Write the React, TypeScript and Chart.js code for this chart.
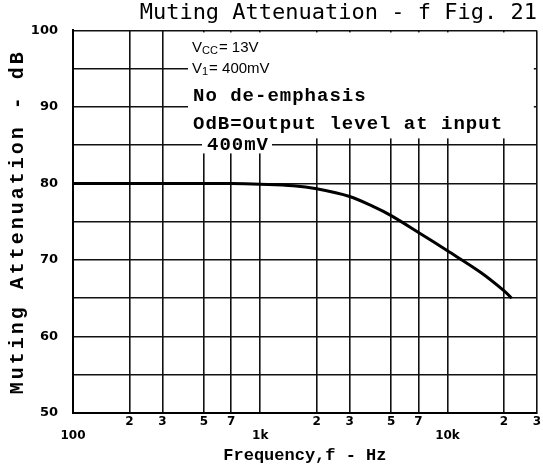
import React, { useEffect, useRef } from 'react';
import { Chart, registerables } from 'chart.js';

Chart.register(...registerables);

// ---- data ----
const frequencies = [100, 200, 300, 500, 700, 1000, 1500, 2000, 3000, 4000, 5000, 7000, 10000, 15000, 20000, 22000];
const attenuation = [80, 80, 80, 80, 80, 79.9, 79.7, 79.3, 78.3, 77.0, 75.8, 73.6, 71.2, 68.4, 66.0, 65.0];
const xTickValues = [100, 200, 300, 500, 700, 1000, 2000, 3000, 5000, 7000, 10000, 20000, 30000];
const xTickLabels = ['100', '2', '3', '5', '7', '1k', '2', '3', '5', '7', '10k', '2', '3'];
const xMajorLabels = ['100', '1k', '10k'];
const yLabelStep = 10;
const titleText = 'Muting Attenuation - f Fig. 21';
const xTitle = 'Frequency,f - Hz';
const yTitle = 'Muting Attenuation - dB';
const noteLines = ['No de-emphasis', 'OdB=Output level at input', '400mV'];

const monoBold = '"Liberation Mono", "DejaVu Sans Mono", monospace';

const notesPlugin = {
  id: 'notes',
  beforeDraw(chart: any) {
    const ys: any = chart.scales.y;
    if (ys && !ys.__patched) {
      const orig = ys.drawTitle.bind(ys);
      ys.drawTitle = () => {
        chart.ctx.save();
        (chart.ctx as any).letterSpacing = '3px';
        orig();
        chart.ctx.restore();
      };
      ys.__patched = true;
    }
  },
  afterDatasetsDraw(chart: any) {
    const { ctx, chartArea: a } = chart;
    ctx.save();
    // blank panel behind the condition notes (grid hidden there)
    ctx.fillStyle = '#fff';
    ctx.fillRect(a.left + 115, a.top + 2, a.right - a.left - 118, 106);

    ctx.fillStyle = '#000';
    ctx.textBaseline = 'middle';
    ctx.textAlign = 'left';

    const drawSub = (x: number, y: number, main: string, sub: string, rest: string) => {
      ctx.font = '15px "Liberation Sans", sans-serif';
      ctx.fillText(main, x, y);
      let cx = x + ctx.measureText(main).width;
      ctx.font = '11px "Liberation Sans", sans-serif';
      ctx.fillText(sub, cx, y + 4);
      cx += ctx.measureText(sub).width;
      ctx.font = '15px "Liberation Sans", sans-serif';
      ctx.fillText(rest, cx + 1, y);
    };
    drawSub(a.left + 119, a.top + 17, 'V', 'CC', '= 13V');
    drawSub(a.left + 119, a.top + 38, 'V', '1', '= 400mV');

    ctx.font = 'bold 19px ' + monoBold;
    (ctx as any).letterSpacing = '1px';
    const pos = [
      [a.left + 120, a.top + 66],
      [a.left + 120, a.top + 94],
      [a.left + 134, a.top + 115],
    ];
    noteLines.forEach((t, i) => {
      const [x, y] = pos[i];
      if (i === 2) {
        const w = ctx.measureText(t).width;
        ctx.fillStyle = '#fff';
        ctx.fillRect(x - 5, y - 8, w + 8, 16);
        ctx.fillStyle = '#000';
      }
      ctx.fillText(t, x, y);
    });
    ctx.restore();
  },
};

export default function App() {
  const ref = useRef<HTMLCanvasElement | null>(null);

  useEffect(() => {
    if (!ref.current) return;
    const chart = new Chart(ref.current, {
      type: 'line',
      data: {
        datasets: [
          {
            data: frequencies.map((f, i) => ({ x: f, y: attenuation[i] })),
            borderColor: '#000',
            borderWidth: 3,
            pointRadius: 0,
            tension: 0.35,
            fill: false,
          },
        ],
      },
      options: {
        responsive: false,
        animation: false,
        devicePixelRatio: 1,
        layout: { padding: { top: 0, right: 6, left: 0, bottom: 0 } },
        plugins: {
          legend: { display: false },
          tooltip: { enabled: false },
          title: {
            display: true,
            text: titleText,
            align: 'end',
            color: '#000',
            font: { family: '"DejaVu Sans Mono", monospace', size: 22, weight: 'normal', lineHeight: 1.2 },
            padding: { top: 0, bottom: 4 },
          },
        },
        scales: {
          x: {
            type: 'logarithmic',
            min: 100,
            max: 30000,
            afterBuildTicks: (s: any) => {
              s.ticks = xTickValues.map((v) => ({ value: v }));
            },
            afterFit: (s: any) => {
              s.height = 59;
            },
            ticks: {
              autoSkip: false,
              maxRotation: 0,
              minRotation: 0,
              padding: 2,
              color: '#000',
              font: { family: '"DejaVu Sans", sans-serif', size: 12, weight: 'bold', lineHeight: 1.15 },
              callback: (_v: any, i: number) => {
                const l = xTickLabels[i];
                return xMajorLabels.includes(l) ? ['', l] : l;
              },
            },
            grid: { color: '#111', lineWidth: 1.6, drawTicks: false },
            border: { color: '#000', width: 2 },
            title: {
              display: true,
              text: xTitle,
              color: '#000',
              font: { family: monoBold, size: 17, weight: 'bold', lineHeight: 1.2 },
              padding: { top: 2, bottom: 6 },
            },
          },
          y: {
            min: 50,
            max: 100,
            afterFit: (s: any) => {
              s.width = 73;
            },
            ticks: {
              stepSize: 5,
              padding: 15,
              color: '#000',
              font: { family: '"DejaVu Sans", sans-serif', size: 13, weight: 'bold' },
              callback: (v: any) => (Number(v) % yLabelStep === 0 ? String(v) : ''),
            },
            grid: { color: '#111', lineWidth: 1.6, drawTicks: false },
            border: { color: '#000', width: 2 },
            title: {
              display: true,
              text: yTitle,
              color: '#000',
              font: { family: monoBold, size: 20, weight: 'bold', lineHeight: 1.2 },
              padding: { top: 6, bottom: 0 },
            },
          },
        },
      },
      plugins: [notesPlugin],
    } as any);
    return () => chart.destroy();
  }, []);

  return (
    <div style={{ position: 'fixed', left: 0, top: 0, width: 543, height: 472, background: '#fff' }}>
      <canvas ref={ref} width={543} height={472} style={{ display: 'block' }} />
    </div>
  );
}
